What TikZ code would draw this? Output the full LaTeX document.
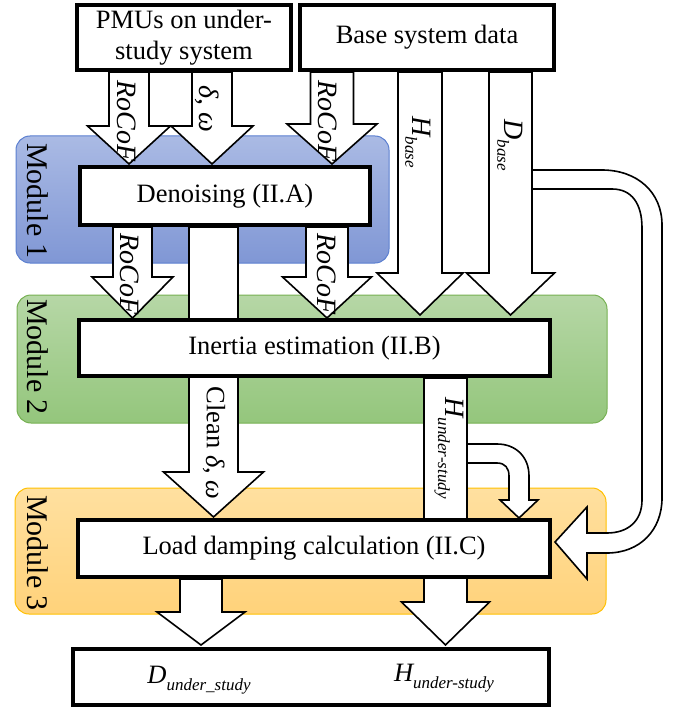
\documentclass[tikz,border=0pt]{standalone}
\usepackage{fontspec}
\setmainfont{Liberation Serif}
\definecolor{mAtop}{RGB}{170,186,228}
\definecolor{mAbot}{RGB}{128,151,213}
\definecolor{mAedge}{RGB}{91,127,208}
\definecolor{mBtop}{RGB}{182,215,166}
\definecolor{mBbot}{RGB}{148,198,124}
\definecolor{mBedge}{RGB}{118,176,82}
\definecolor{mCtop}{RGB}{255,224,160}
\definecolor{mCbot}{RGB}{255,210,122}
\definecolor{mCedge}{RGB}{255,192,0}
\tikzset{
  box/.style={draw=black, line width=4.5pt, fill=white, inner sep=0pt,
    font=\fontsize{26.5}{31}\selectfont, align=center},
  arrowbody/.style={draw=black, line width=1.6pt, fill=white, line join=miter},
  module/.style={rounded corners=14pt, line width=1pt},
  lbl/.style={rotate=-90, inner sep=0pt, font=\fontsize{28}{28}\selectfont\itshape},
  modlbl/.style={rotate=-90, inner sep=0pt, font=\fontsize{30}{30}\selectfont},
  outtext/.style={inner sep=0pt, font=\fontsize{26.5}{26.5}\selectfont\itshape},
}
\newcommand{\blkarrow}[6]{\draw[arrowbody] ({#1-#5},#2) -- ({#1-#5},#3) -- ({#1-#6},#3) -- (#1,#4) -- ({#1+#6},#3) -- ({#1+#5},#3) -- ({#1+#5},#2) -- cycle;}
\newcommand{\subtxt}[1]{\raisebox{-7pt}{\fontsize{17}{17}\selectfont\itshape #1}}
\begin{document}
\begin{tikzpicture}[x=1pt,y=-1pt]
\useasboundingbox (0,0) rectangle (672,708);
% module backgrounds
\shadedraw[module, top color=mAtop, bottom color=mAbot, draw=mAedge] (16,136) rectangle (389,263);
\shadedraw[module, top color=mBtop, bottom color=mBbot, draw=mBedge] (17,295) rectangle (607,423);
\shadedraw[module, top color=mCtop, bottom color=mCbot, draw=mCedge] (15,488) rectangle (606,614);
\node[modlbl] (m1) at (38,201) {Module 1};
\node[modlbl] (m2) at (38,357) {Module 2};
\node[modlbl] (m3) at (38,553) {Module 3};
% curved arrows
\draw[arrowbody] (532,170) -- (602,170) .. controls (637,170) and (662,192) .. (662,225) -- (662,498) .. controls (662,530) and (640,553) .. (607,553) -- (587,553) -- (587,579) -- (555,542) -- (587,507) -- (587,533) -- (607,533) .. controls (628,533) and (642,521) .. (642,500) -- (642,228) .. controls (642,204) and (632,189) .. (612,189) -- (532,189) -- cycle;
\draw[arrowbody] (467,444) -- (497,444) .. controls (516,444) and (529,457) .. (529,476) -- (529,500) -- (538,500) -- (519,518) -- (500,500) -- (509,500) -- (509,476) .. controls (509,468) and (505,463) .. (497,463) -- (467,463) -- cycle;
% straight block arrows
\blkarrow{129}{72}{126}{164}{20}{41.5}
\blkarrow{212}{72}{126}{164}{20}{41}
\draw[arrowbody] (149,72) rectangle (192,126);
\blkarrow{332}{72}{124}{164}{21.5}{45}
\blkarrow{420}{72}{273}{315}{22}{43}
\blkarrow{510.5}{72}{273}{315}{21.5}{44}
\blkarrow{132.5}{227}{277}{318}{19.5}{40.5}
\blkarrow{327}{227}{277}{318}{21}{44.5}
\blkarrow{213.5}{227}{472}{517}{24.5}{50}
\blkarrow{445.5}{378}{602}{645}{21.5}{44}
\blkarrow{201}{579}{612}{645}{21}{44}
% boxes
\node[box, minimum width=214pt, minimum height=65pt] (pmu) at (184,37.5) {PMUs on under-\\study system};
\node[box, minimum width=254pt, minimum height=65pt] (base) at (427,37.5) {Base system data};
\node[box, minimum width=290pt, minimum height=58pt] (denoise) at (225,196) {Denoising (II.A)};
\node[box, minimum width=471pt, minimum height=56pt] (inertia) at (314.5,348) {Inertia estimation (II.B)};
\node[box, minimum width=472pt, minimum height=57pt] (load) at (314,548.5) {Load damping calculation (II.C)};
\node[box, minimum width=476pt, minimum height=56pt] (output) at (311,677) {};
% arrow labels
\node[lbl] (l1) at (127,121) {RoCoF};
\node[lbl] (l2) at (207,109) {δ, ω};
\node[lbl] (l3) at (328,121) {RoCoF};
\node[lbl] (l4) at (418,142) {H\subtxt{base}};
\node[lbl] (l5) at (510,145) {D\subtxt{base}};
\node[lbl] (l6) at (130,274) {RoCoF};
\node[lbl] (l7) at (327,274) {RoCoF};
\node[lbl, font=\fontsize{26.5}{26.5}\selectfont] (l8) at (214,443) {Clean \textit{δ}, \textit{ω}};
\node[lbl] (l9) at (449,448) {H\subtxt{under-study}};
% output labels
\node[outtext] (dout) at (199,680) {D\subtxt{under\_study}};
\node[outtext] (hout) at (444,678) {H\subtxt{under-study}};
\end{tikzpicture}
\end{document}
